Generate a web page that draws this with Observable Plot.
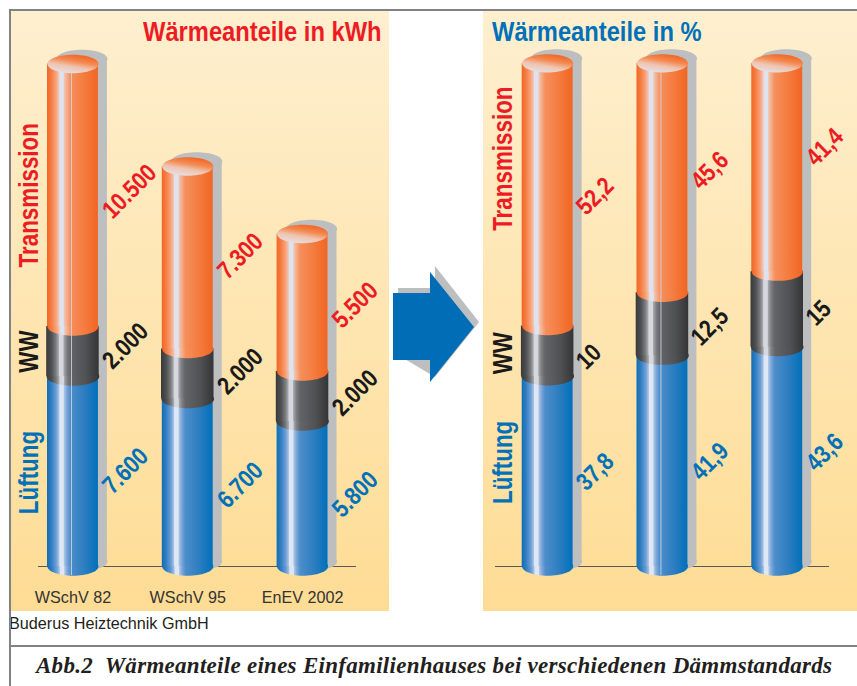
<!DOCTYPE html>
<html lang="de">
<head>
<meta charset="utf-8">
<script src="https://cdn.jsdelivr.net/npm/d3@7"></script>
<script src="https://cdn.jsdelivr.net/npm/@observablehq/plot@0.6"></script>
<style>
  html, body { margin: 0; padding: 0; background: #fff; }
  #page { position: relative; width: 857px; height: 686px; overflow: hidden; font-family: "Liberation Sans", sans-serif; }
  .panel { position: absolute; top: 10px; height: 601px; background: linear-gradient(#feefcf, #fedc94); }
  .panel svg { position: absolute; left: 0; top: 0; }
  .title { position: absolute; top: 13px; font: bold 28px "Liberation Sans", sans-serif; line-height: 38px; white-space: nowrap; transform: scaleX(0.847); transform-origin: 0 50%; }
  .rule { position: absolute; background: #808285; z-index: 1; }
  #source { position: absolute; left: 9px; top: 614px; font-size: 16.2px; line-height: 18px; color: #231f20; }
  #caption { position: absolute; left: 36px; top: 653px; font: italic bold 23px "Liberation Serif", serif; line-height: 26px; color: #231f20; white-space: nowrap; letter-spacing: 0.28px; }
  #arrow { position: absolute; left: 385px; top: 260px; }
</style>
</head>
<body>
<div id="page">
  <div class="rule" style="left:9px;top:9px;width:848px;height:2px"></div>
  <div class="rule" style="left:9px;top:9px;width:2px;height:677px"></div>
  <div class="rule" style="left:9px;top:645px;width:848px;height:2px"></div>
  <div class="panel" id="left" style="left:11px;width:378px"></div>
  <div class="panel" id="right" style="left:483px;width:374px"></div>
  <svg id="arrow" width="100" height="130" viewBox="385 260 100 130">
    <polygon points="398,288 435,288 435,266 479,322 435,377 398,355" fill="#bcbec0"/>
    <polygon points="393,293 430,293 430,272 474,327 430,382 430,360 393,360" fill="#006db6"/>
  </svg>
  <div class="title" style="left:143px;color:#ed1c24">Wärmeanteile in kWh</div>
  <div class="title" style="left:492px;color:#0070b8">Wärmeanteile in %</div>
  <div id="source">Buderus Heiztechnik GmbH</div>
  <div id="caption">Abb.2&nbsp; Wärmeanteile eines Einfamilienhauses bei verschiedenen Dämmstandards</div>
</div>
<svg width="0" height="0" style="position:absolute">
  <defs id="defs"></defs>
</svg>
<script>
// ---- data ----
const categories = ["WSchV 82", "WSchV 95", "EnEV 2002"];
const seriesNames = ["Lüftung", "WW", "Transmission"];
const kwhLueftung = [7600, 6700, 5800];
const kwhWW = [2000, 2000, 2000];
const kwhTransmission = [10500, 7300, 5500];
const pctLueftung = [37.8, 41.9, 43.6];
const pctWW = [10, 12.5, 15];
const pctTransmission = [52.2, 45.6, 41.4];

// ---- styling ----
const COLORS = {"Lüftung": "#0070b8", "WW": "#1a1a1a", "Transmission": "#ed1c24"};
const SANS = "Liberation Sans, sans-serif";
const SHADOW = "#bcbec0";

function gradient(id, stops, coords = [0, 0, 1, 0]) {
  const ns = "http://www.w3.org/2000/svg";
  const g = document.createElementNS(ns, "linearGradient");
  g.setAttribute("id", id);
  ["x1", "y1", "x2", "y2"].forEach((k, i) => g.setAttribute(k, coords[i]));
  for (const [o, c] of stops) {
    const s = document.createElementNS(ns, "stop");
    s.setAttribute("offset", o);
    s.setAttribute("stop-color", c);
    g.appendChild(s);
  }
  document.getElementById("defs").appendChild(g);
}
gradient("gOrange", [[0, "#f26522"], [0.08, "#f57c42"], [0.18, "#f8a47c"], [0.235, "#f0c8b8"], [0.25, "#dfe3ef"], [0.32, "#dfe3ef"], [0.34, "#efc6b2"], [0.39, "#f4ae8c"], [0.46, "#f68f5c"], [0.72, "#f47c40"], [1, "#f26522"]]);
gradient("gBlack", [[0, "#39393b"], [0.1, "#4f5052"], [0.18, "#77797c"], [0.235, "#a7a9ad"], [0.25, "#d5d8de"], [0.32, "#d5d8de"], [0.34, "#a3a5a9"], [0.39, "#7d7f82"], [0.46, "#636467"], [0.75, "#505153"], [1, "#353537"]]);
gradient("gBlue", [[0, "#0f6db6"], [0.08, "#2f7dc1"], [0.18, "#6c9ed5"], [0.235, "#a7c3e6"], [0.25, "#dfe7f5"], [0.32, "#dfe7f5"], [0.34, "#a9c4e6"], [0.39, "#7ba6d9"], [0.46, "#4d8dca"], [0.75, "#2a7cc0"], [1, "#0070ba"]]);
gradient("gCap", [[0, "#e4e4ec"], [0.42, "#efc4b0"], [0.68, "#f48a52"], [1, "#f26522"]], [0.15, 1, 0.62, 0]);

// Elliptical dot symbol so cylinder ends stay attached to the scales.
function ellipse(rx, ry) {
  const k = 0.5523;
  return {
    draw(c) {
      c.moveTo(-rx, 0);
      c.bezierCurveTo(-rx, -k * ry, -k * rx, -ry, 0, -ry);
      c.bezierCurveTo(k * rx, -ry, rx, -k * ry, rx, 0);
      c.bezierCurveTo(rx, k * ry, k * rx, ry, 0, ry);
      c.bezierCurveTo(-k * rx, ry, -rx, k * ry, -rx, 0);
      c.closePath();
    }
  };
}

function cylinderChart({target, width, xRange, yMax, lift, ww, trans, format, axis, seam, valueDx, nameDx, nudge, nameNudge, ruleInset}) {
  const rows = categories.map((c, i) => {
    const a = lift[i], b = a + ww[i], t = b + trans[i];
    return {cat: c, i, a, b, t};
  });
  const labels = rows.flatMap((r) => [
    {cat: r.cat, i: r.i, s: 0, y: r.a / 2, v: lift[r.i]},
    {cat: r.cat, i: r.i, s: 1, y: (r.a + r.b) / 2, v: ww[r.i]},
    {cat: r.cat, i: r.i, s: 2, y: (r.b + r.t) / 2, v: trans[r.i]}
  ]);
  const end = ellipse(25.5, 9.2);
  const endWide = ellipse(26.3, 9.2);
  const first = labels.filter((d) => d.i === 0);
  const plot = Plot.plot({
    width, height: 601,
    marginLeft: 0, marginRight: 0, marginTop: 0, marginBottom: 45,
    style: {background: "transparent", overflow: "visible"},
    x: {type: "band", domain: categories, range: xRange, paddingInner: 0.5565, paddingOuter: 0, align: 0, round: false, label: null, axis: null},
    y: {domain: [0, yMax], axis: null, label: null},
    marks: [
      Plot.ruleY([0], {stroke: "#58595b", strokeWidth: 1.2, insetLeft: ruleInset[0], insetRight: ruleInset[1]}),
      // grey drop shadow
      Plot.barY(rows, {x: "cat", y1: 0, y2: "t", fill: SHADOW, dx: 9, dy: -5}),
      Plot.dot(rows, {x: "cat", y: "t", symbol: end, fill: SHADOW, dx: 9, dy: -5}),
      Plot.dot(rows, {x: "cat", y: () => 0, symbol: end, fill: SHADOW, dx: 9, dy: -5}),
      // Lüftung
      Plot.dot(rows, {x: "cat", y: () => 0, symbol: end, fill: "url(#gBlue)"}),
      Plot.barY(rows, {x: "cat", y1: 0, y2: "a", fill: "url(#gBlue)"}),
      // WW
      Plot.dot(rows, {x: "cat", y: "a", symbol: endWide, fill: "url(#gBlack)"}),
      Plot.barY(rows, {x: "cat", y1: "a", y2: "b", fill: "url(#gBlack)", insetLeft: -0.8, insetRight: -0.8}),
      // Transmission
      Plot.dot(rows, {x: "cat", y: "b", symbol: end, fill: "url(#gOrange)"}),
      Plot.barY(rows, {x: "cat", y1: "b", y2: "t", fill: "url(#gOrange)"}),
      Plot.dot(rows, {x: "cat", y: "t", symbol: end, fill: "url(#gCap)"}),
      // thin seam visible on one cylinder of each panel
      Plot.ruleX(rows.filter((r) => r.cat === seam), {x: "cat", y1: 0, y2: "t", stroke: "#cfd8e8", strokeWidth: 1, strokeOpacity: 0.85, dx: -1.5, dy: 9}),
      // value labels
      ...labels.map((d) => Plot.text([d], {
        x: "cat", y: "y", text: (e) => format(e.v),
        rotate: -45, textAnchor: "start", dx: valueDx, dy: nudge[d.s][d.i],
        fill: COLORS[seriesNames[d.s]],
        fontFamily: SANS, fontWeight: "bold", fontSize: 25
      })),
      // series names
      ...first.map((d) => Plot.text([d], {
        x: "cat", y: "y", text: () => seriesNames[d.s],
        rotate: -90, dx: nameDx, dy: nameNudge[d.s],
        fill: COLORS[seriesNames[d.s]],
        fontFamily: SANS, fontWeight: "bold", fontSize: 28
      })),
      ...(axis ? [Plot.axisX({tickSize: 0, tickPadding: 24, fontFamily: SANS, fontSize: 17, fill: "#333", label: null})] : [])
    ]
  });
  document.getElementById(target).appendChild(plot);
  // No narrow face is installed: condense the drawn text along its own direction.
  const condense = {"25px": 0.84, "28px": 0.8, "17px": 0.95};
  for (const t of plot.querySelectorAll("text")) {
    const ratio = condense[getComputedStyle(t).fontSize];
    if (ratio) {
      t.setAttribute("textLength", (t.getComputedTextLength() * ratio).toFixed(1));
      t.setAttribute("lengthAdjust", "spacingAndGlyphs");
    }
  }
}

const formatKwh = (v) => String(v).replace(/\B(?=(\d{3})+$)/g, ".");
const formatPct = (v) => String(v).replace(".", ",");

cylinderChart({
  target: "left", width: 378, xRange: [36, 316.5], yMax: 22240,
  lift: kwhLueftung, ww: kwhWW, trans: kwhTransmission, format: formatKwh,
  axis: true, seam: "WSchV 82", valueDx: 34, nameDx: -44,
  nudge: [[18, 21, 19], [13, 16, 15], [19, 17, 21]],
  nameNudge: [1, 0, 0], ruleInset: [27, 33]
});
cylinderChart({
  target: "right", width: 374, xRange: [38.7, 319.2], yMax: 110.5,
  lift: pctLueftung, ww: pctWW, trans: pctTransmission, format: formatPct,
  axis: false, seam: "WSchV 95", valueDx: 33, nameDx: -44.5,
  nudge: [[15, 15, 10], [14, 17, 12], [16, 7, -6]],
  nameNudge: [-9, 2, -36], ruleInset: [12, 28]
});
</script>
</body>
</html>
